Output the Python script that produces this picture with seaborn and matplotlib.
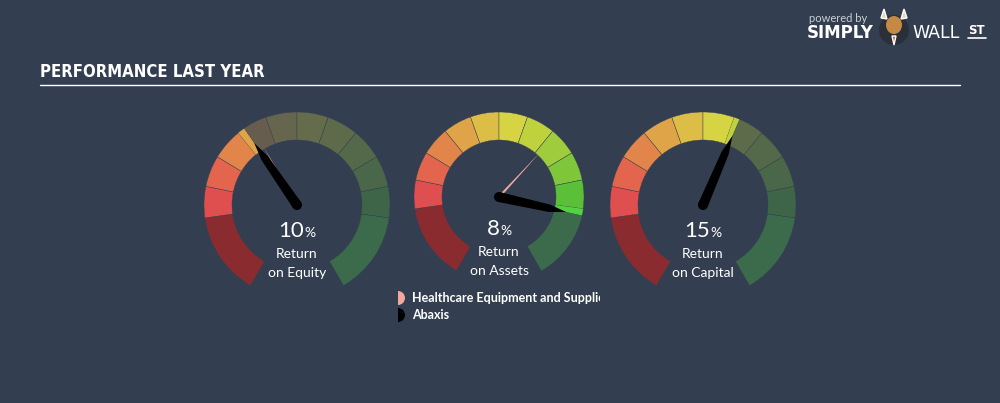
import numpy as np
import matplotlib
matplotlib.use("Agg")
import matplotlib.pyplot as plt
import matplotlib.colors as mcolors
from matplotlib.patches import Wedge, Polygon, Circle, Ellipse
from matplotlib.transforms import Bbox, TransformedBbox
import seaborn as sns

# ---------------- data ----------------
title = "PERFORMANCE LAST YEAR"
metric_names = ["Equity", "Assets", "Capital"]
company_name = "Abaxis"
industry_name = "Healthcare Equipment and Supplies"
company_values = [10, 8, 15]          # %
industry_values = [10.4, 6.1, 15.1]    # %
scale_min = [0, 0, 0]
scale_max = [26, 9.5, 26]
segment_colors = ["#8a2c2f", "#df4f50", "#e3654d", "#e2854a", "#e0a448",
                  "#dcbd46", "#d6d442", "#bfd23e", "#9fcc3c", "#7fc63a",
                  "#5cbf38", "#52d23e"]

# ---------------- style ----------------
BG = "#333f50"
sns.set_theme(style="white")
plt.rcParams["font.family"] = ["Lato", "DejaVu Sans"]

fig = plt.figure(figsize=(10, 4.03), dpi=100, facecolor=BG)
ax = fig.add_axes([0, 0, 1, 1])
ax.set_facecolor(BG)
ax.set_xlim(0, 1000)
ax.set_ylim(0, 403)
ax.axis("off")

H = 403
def Y(py):
    return H - py

def muted(c, a=0.3):
    c1 = np.array(mcolors.to_rgb(c))
    c0 = np.array(mcolors.to_rgb(BG))
    return tuple(c0 * (1 - a) + c1 * a)

# segment angular layout: big start, 10 medium, big end
A0, A1 = 240.0, -60.0
big = 52.0
mid = (A0 - A1 - 2 * big) / 10
bounds = [A0, A0 - big] + [A0 - big - mid * (i + 1) for i in range(10)] + [A1]

def val2ang(v, lo, hi):
    return A0 - (A0 - A1) * (v - lo) / (hi - lo)

centers = [(297, 205), (499, 197), (703, 205)]
radii = [93, 85, 93]
ring_w = 28
value_y = [231, 229, 231]
lab1_y = [254, 252, 254]
lab2_y = [273, 271, 273]

renderer = fig.canvas.get_renderer()

def needle(c, ang, L, hw, color, z, taper=0.75):
    t = np.deg2rad(ang)
    d = np.array([np.cos(t), np.sin(t)])
    p = np.array([-np.sin(t), np.cos(t)])
    c = np.array(c)
    pts = [c + p * hw, c + d * L * taper + p * hw * 0.75, c + d * L,
           c + d * L * taper - p * hw * 0.75, c - p * hw]
    ax.add_patch(Polygon(pts, closed=True, facecolor=color, edgecolor="none", zorder=z))
    ax.add_patch(Circle(c, hw, facecolor=color, edgecolor="none", zorder=z))

for g in range(3):
    cx, py = centers[g]
    c = (cx, Y(py))
    R = radii[g]
    va = val2ang(company_values[g], scale_min[g], scale_max[g])
    ia = val2ang(industry_values[g], scale_min[g], scale_max[g])
    for i in range(12):
        a_hi, a_lo = bounds[i], bounds[i + 1]
        col = segment_colors[i]
        if va <= a_lo:
            ax.add_patch(Wedge(c, R, a_lo, a_hi, width=ring_w, facecolor=col,
                               edgecolor=BG, linewidth=0.3, zorder=2))
        elif va >= a_hi:
            ax.add_patch(Wedge(c, R, a_lo, a_hi, width=ring_w, facecolor=muted(col),
                               edgecolor=BG, linewidth=0.3, zorder=2))
        else:
            ax.add_patch(Wedge(c, R, va, a_hi, width=ring_w, facecolor=col,
                               edgecolor="none", zorder=2))
            ax.add_patch(Wedge(c, R, a_lo, va, width=ring_w, facecolor=muted(col),
                               edgecolor="none", zorder=2))
    needle(c, ia, R * 0.72, 1.6, "#f2a89e", 4, taper=0.0)
    needle(c, va, R * 0.81, 5.0, "#000000", 5)

    # value text
    t1 = ax.text(cx, Y(value_y[g]), f"{company_values[g]}", color="white",
                 fontsize=16, ha="right", va="center", zorder=6)
    t2 = ax.text(cx, Y(value_y[g]) - 2, "%", color="white",
                 fontsize=10, ha="left", va="center", zorder=6)
    w1 = t1.get_window_extent(renderer).width
    w2 = t2.get_window_extent(renderer).width
    tot = w1 + w2
    t1.set_x(cx - tot / 2 + w1)
    t2.set_x(cx - tot / 2 + w1 + 0.3)
    ax.text(cx, Y(lab1_y[g]), "Return", color="white", fontsize=10,
            ha="center", va="center", zorder=6)
    ax.text(cx, Y(lab2_y[g]), f"on {metric_names[g]}", color="white", fontsize=10,
            ha="center", va="center", zorder=6)

# legend
ax.add_patch(Wedge((398, Y(298)), 7, -90, 90, facecolor="#f2a89e", edgecolor="none"))
ax.add_patch(Wedge((398, Y(315)), 7, -90, 90, facecolor="#000000", edgecolor="none"))
lt = ax.text(412, Y(298), industry_name, color="white", fontsize=9,
             fontweight="bold", ha="left", va="center")
clip = Bbox.from_extents(0, 0, 600, 403)
lt.set_clip_box(TransformedBbox(clip, ax.transData))
lt.set_clip_on(True)
ax.text(412, Y(315), company_name, color="white", fontsize=9,
        fontweight="bold", ha="left", va="center")

# title & rule
ax.text(40, Y(72), title, color="white", fontsize=12, fontweight="bold",
        family=["DejaVu Sans"], fontstretch="condensed", ha="left", va="center")
ax.plot([40, 960], [Y(85), Y(85)], color="white", lw=1)

# logo
ax.text(809, Y(18), "powered by", color="#c9ced6", fontsize=8, ha="left", va="center")
ax.text(807, Y(33), "SIMPLY", color="white", fontsize=12, fontweight="bold",
        ha="left", va="center", family=["DejaVu Sans"])
ax.text(912, Y(33), "WALL", color="white", fontsize=12.5, fontweight="normal",
        ha="left", va="center", family=["DejaVu Sans"])
ax.text(968, Y(30), "ST", color="white", fontsize=8.5, fontweight="bold",
        ha="left", va="center", family=["DejaVu Sans"])
ax.plot([968, 986], [Y(38), Y(38)], color="white", lw=1.2)
ax.add_patch(Circle((894, Y(30)), 15, facecolor="#2a2f38", edgecolor="none", zorder=3))
ax.add_patch(Ellipse((894, Y(25)), 16, 18, facecolor="#c48a45", edgecolor="none", zorder=4))
ax.add_patch(Polygon([(881, Y(18)), (884, Y(9)), (887, Y(19))], facecolor="#e6d7b0", zorder=4))
ax.add_patch(Polygon([(907, Y(18)), (904, Y(9)), (901, Y(19))], facecolor="#e6d7b0", zorder=4))
ax.add_patch(Polygon([(892, Y(36)), (896, Y(36)), (894, Y(45))], facecolor="#e05a2a", zorder=5))

fig.savefig("out.png", dpi=100, facecolor=BG)
